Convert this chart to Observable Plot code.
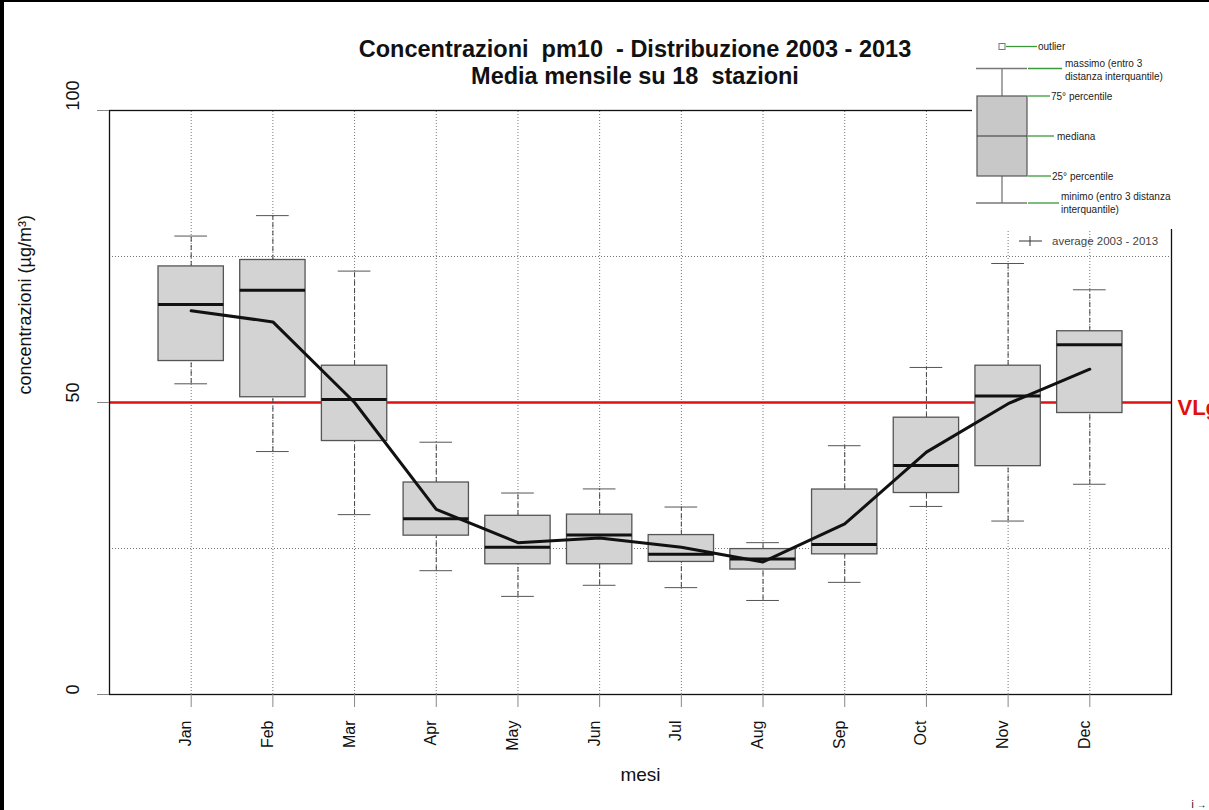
<!DOCTYPE html>
<html><head><meta charset="utf-8">
<script src="https://cdn.jsdelivr.net/npm/d3@7"></script>
<script src="https://cdn.jsdelivr.net/npm/@observablehq/plot@0.6"></script>
<style>
body{margin:0;background:#fff;}
svg{display:block;font-family:"Liberation Sans",Arial,Helvetica,sans-serif;}
</style>
</head><body><div id="chart"></div>
<script>
const months = ["Jan","Feb","Mar","Apr","May","Jun","Jul","Aug","Sep","Oct","Nov","Dec"];
const whiskerHigh = [78.5, 82.0, 72.5, 43.2, 34.5, 35.2, 32.1, 26.0, 42.6, 56.0, 73.8, 69.3];
const q3 =          [73.3, 74.4, 56.3, 36.3, 30.6, 30.8, 27.3, 24.9, 35.1, 47.4, 56.3, 62.2];
const median =      [66.8, 69.2, 50.5, 30.1, 25.2, 27.3, 24.0, 23.2, 25.7, 39.2, 51.1, 59.9];
const q1 =          [57.1, 50.9, 43.4, 27.2, 22.3, 22.3, 22.7, 21.4, 24.0, 34.5, 39.1, 48.2];
const whiskerLow =  [53.2, 41.6, 30.8, 21.2, 16.8, 18.7, 18.3, 16.1, 19.2, 32.2, 29.7, 36.0];
const average =     [65.7, 63.8, 50.0, 31.7, 26.0, 26.8, 25.2, 22.7, 29.2, 41.5, 49.8, 55.7];
const yTicks = [0, 50, 100];
const hGrid = [25, 75];
const limitValue = 50;
const limitLabel = "VLg";
const titleLines = ["Concentrazioni  pm10  - Distribuzione 2003 - 2013", "Media mensile su 18  stazioni"];
const xLabel = "mesi";
const yLabel = "concentrazioni (µg/m³)";

const data = months.map((m, k) => ({
  month: m, i: k + 1,
  hi: whiskerHigh[k], q3: q3[k], med: median[k], q1: q1[k], lo: whiskerLow[k], mean: average[k]
}));
const idx = data.map(d => d.i);
const BOX = 0.4, CAP = 0.2;

const plot = Plot.plot({
  width: 1209, height: 810,
  marginLeft: 109, marginRight: 38, marginTop: 110, marginBottom: 116,
  style: {fontFamily: '"Liberation Sans",Arial,sans-serif', background: "white", overflow: "hidden"},
  x: {type: "linear", domain: [0, 13], axis: null},
  y: {domain: [0, 100], axis: null},
  marks: [
    Plot.ruleY(hGrid, {stroke: "#777", strokeDasharray: "1,2", strokeWidth: 1}),
    Plot.ruleX(idx, {y1: 0, y2: 100, stroke: "#777", strokeDasharray: "1,2", strokeWidth: 1}),
    Plot.ruleY([limitValue], {stroke: "#e01010", strokeWidth: 2.5}),
    Plot.ruleX(data, {x: "i", y1: "q3", y2: "hi", stroke: "#444", strokeDasharray: "5,3"}),
    Plot.ruleX(data, {x: "i", y1: "lo", y2: "q1", stroke: "#444", strokeDasharray: "5,3"}),
    Plot.ruleY(data, {y: "hi", x1: d => d.i - CAP, x2: d => d.i + CAP, stroke: "#555"}),
    Plot.ruleY(data, {y: "lo", x1: d => d.i - CAP, x2: d => d.i + CAP, stroke: "#555"}),
    Plot.rect(data, {x1: d => d.i - BOX, x2: d => d.i + BOX, y1: "q1", y2: "q3", fill: "#d3d3d3", stroke: "#555", strokeWidth: 1.3}),
    Plot.ruleY(data, {y: "med", x1: d => d.i - BOX, x2: d => d.i + BOX, stroke: "#111", strokeWidth: 3}),
    Plot.line(data, {x: "i", y: "mean", stroke: "#111", strokeWidth: 3, strokeLinejoin: "round"}),
    Plot.frame({stroke: "#111", strokeWidth: 1.3}),
    Plot.axisX({ticks: idx, tickSize: 13, tickFormat: () => "", stroke: "#888"}),
    Plot.axisY({ticks: yTicks, tickSize: 12, tickFormat: () => "", stroke: "#888"}),
    Plot.text(data, {x: "i", frameAnchor: "bottom", dy: 26, rotate: -90, textAnchor: "end", text: "month", fontSize: 16, fill: "#111"}),
    Plot.text(yTicks, {y: d => d, frameAnchor: "left", dx: -36, rotate: -90, text: d => String(d), fontSize: 18, fill: "#111"}),
    Plot.text([yLabel], {frameAnchor: "left", dx: -84, dy: -8, rotate: -90, text: d => d, fontSize: 18, fill: "#111"}),
    Plot.text([xLabel], {frameAnchor: "bottom", dy: 86, text: d => d, fontSize: 19, fill: "#111"}),
    Plot.text([limitValue], {y: d => d, frameAnchor: "right", dx: 6, dy: 5, textAnchor: "start", text: () => limitLabel, fill: "#e01010", fontWeight: "bold", fontSize: 22})
  ]
});

const svg = d3.select(plot);
// title
const t = svg.append("g").attr("font-weight", "bold").attr("font-size", 23.5).attr("fill", "#111")
  .attr("text-anchor", "middle").style("white-space", "pre");
t.append("text").attr("x", 635).attr("y", 57).text(titleLines[0]);
t.append("text").attr("x", 635).attr("y", 83.5).text(titleLines[1]);

// legend image area
const lg = svg.append("g").attr("text-anchor", "start");
lg.append("rect").attr("x", 972).attr("y", 0).attr("width", 237).attr("height", 229).attr("fill", "white");
const green = "#3a9a3a", grey = "#777";
// outlier
lg.append("rect").attr("x", 999).attr("y", 43.5).attr("width", 6).attr("height", 6).attr("fill", "white").attr("stroke", grey);
lg.append("line").attr("x1", 1006).attr("x2", 1037).attr("y1", 46.5).attr("y2", 46.5).attr("stroke", green).attr("stroke-width", 1.3);
// whiskers
lg.append("line").attr("x1", 976).attr("x2", 1027).attr("y1", 68.5).attr("y2", 68.5).attr("stroke", grey).attr("stroke-width", 1.3);
lg.append("line").attr("x1", 976).attr("x2", 1027).attr("y1", 203).attr("y2", 203).attr("stroke", grey).attr("stroke-width", 1.3);
lg.append("line").attr("x1", 1002).attr("x2", 1002).attr("y1", 68.5).attr("y2", 96).attr("stroke", grey).attr("stroke-width", 1.3);
lg.append("line").attr("x1", 1002).attr("x2", 1002).attr("y1", 176).attr("y2", 203).attr("stroke", grey).attr("stroke-width", 1.3);
lg.append("rect").attr("x", 977).attr("y", 96).attr("width", 50).attr("height", 80).attr("fill", "#c8c8c8").attr("stroke", "#555").attr("stroke-width", 1.2);
lg.append("line").attr("x1", 977).attr("x2", 1027).attr("y1", 136).attr("y2", 136).attr("stroke", "#333").attr("stroke-width", 1.2);
const gl = [[68.5, 1062], [96, 1050], [136, 1054], [176, 1051], [203, 1059]];
gl.forEach(([y, x2]) => lg.append("line").attr("x1", 1028).attr("x2", x2).attr("y1", y).attr("y2", y).attr("stroke", green).attr("stroke-width", 1.3));
const lt = lg.append("g").attr("font-size", 10).attr("fill", "#222").attr("text-anchor", "start");
const legTexts = [
  [1038, 49.5, "outlier"], [1065, 67, "massimo (entro 3"], [1065, 80, "distanza interquantile)"],
  [1051, 99.5, "75° percentile"], [1057, 139.5, "mediana"], [1052, 179.5, "25° percentile"],
  [1061, 200, "minimo (entro 3 distanza"], [1061, 213, "interquantile)"]
];
legTexts.forEach(([x, y, s]) => lt.append("text").attr("x", x).attr("y", y).text(s));
// average legend
lg.append("line").attr("x1", 1019).attr("x2", 1042).attr("y1", 241).attr("y2", 241).attr("stroke", "#333");
lg.append("line").attr("x1", 1030).attr("x2", 1030).attr("y1", 236).attr("y2", 246).attr("stroke", "#333");
lg.append("text").attr("x", 1052).attr("y", 245).attr("font-size", 11.5).attr("fill", "#444").attr("text-anchor", "start").text("average 2003 - 2013");

// outer border of the picture
svg.append("rect").attr("x", 0).attr("y", 0).attr("width", 1209).attr("height", 2).attr("fill", "#000");
svg.append("rect").attr("x", 0).attr("y", 0).attr("width", 4).attr("height", 810).attr("fill", "#000");

document.getElementById("chart").appendChild(plot);
</script>
</body></html>
